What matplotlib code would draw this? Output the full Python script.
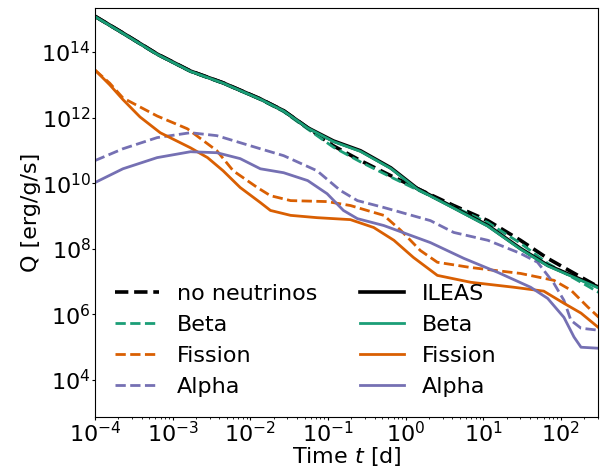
import numpy as np
import matplotlib.pyplot as plt

# log10(time [d]) and log10(Q [erg/g/s]) for each run

# total heating, ILEAS neutrinos (solid black / solid green beta)
lt_ileas = [-4.0, -3.64, -3.2, -2.77, -2.35, -1.87, -1.57, -1.26, -0.93, -0.58, -0.19, 0.15, 0.62, 1.06, 1.48, 1.83, 2.49]
lq_ileas = [15.09, 14.58, 13.94, 13.42, 13.06, 12.57, 12.21, 11.69, 11.29, 10.99, 10.47, 9.84, 9.26, 8.71, 8.01, 7.5, 6.83]
lq_ileas_beta = [15.08, 14.57, 13.93, 13.41, 13.05, 12.56, 12.2, 11.68, 11.27, 10.97, 10.45, 9.82, 9.24, 8.69, 7.99, 7.48, 6.8]

# total heating without neutrinos (dashed black / dashed green beta)
lt_nonu = [-4.0, -3.64, -3.2, -2.77, -2.35, -1.87, -1.57, -1.26, -0.93, -0.58, -0.19, 0.15, 0.62, 1.06, 1.48, 1.83, 2.49]
lq_nonu = [15.09, 14.58, 13.94, 13.42, 13.06, 12.57, 12.21, 11.69, 11.14, 10.69, 10.23, 9.84, 9.32, 8.86, 8.26, 7.71, 6.83]
lq_nonu_beta = [15.08, 14.56, 13.92, 13.4, 13.04, 12.55, 12.18, 11.65, 11.1, 10.65, 10.19, 9.8, 9.28, 8.8, 8.17, 7.56, 6.67]

# fission heating
lt_fis_nonu = [-4.0, -3.81, -3.64, -3.2, -2.81, -2.43, -2.22, -1.91, -1.74, -1.48, -1.01, -0.71, -0.28, -0.06, 0.19, 0.41, 0.84, 1.48, 1.91, 2.13, 2.35, 2.49]
lq_fis_nonu = [13.45, 13.05, 12.6, 12.05, 11.66, 10.99, 10.38, 9.87, 9.62, 9.47, 9.44, 9.32, 9.02, 8.56, 7.95, 7.59, 7.43, 7.25, 7.04, 6.74, 6.22, 5.91]
lt_fis_ileas = [-4.0, -3.81, -3.64, -3.42, -3.16, -2.77, -2.55, -2.35, -2.13, -1.87, -1.74, -1.48, -1.14, -0.71, -0.41, -0.15, 0.1, 0.41, 0.84, 1.39, 1.78, 2.04, 2.26, 2.48]
lq_fis_ileas = [13.45, 13.0, 12.55, 12.02, 11.54, 11.08, 10.78, 10.38, 9.87, 9.41, 9.17, 9.02, 8.95, 8.89, 8.65, 8.26, 7.74, 7.19, 6.98, 6.83, 6.71, 6.34, 6.04, 5.61]

# alpha heating
lt_alpha_nonu = [-4.0, -3.64, -3.2, -2.77, -2.43, -1.87, -1.57, -1.14, -0.84, -0.62, -0.28, 0.32, 0.62, 1.06, 1.48, 1.7, 1.91, 2.04, 2.13, 2.26, 2.48]
lq_alpha_nonu = [10.69, 11.05, 11.39, 11.54, 11.45, 11.05, 10.84, 10.38, 9.78, 9.47, 9.26, 8.86, 8.5, 8.26, 7.86, 7.59, 6.95, 6.43, 5.82, 5.58, 5.52]
lt_alpha_ileas = [-4.0, -3.64, -3.2, -2.77, -2.43, -2.13, -1.87, -1.57, -1.26, -1.01, -0.8, -0.62, -0.28, 0.32, 0.75, 1.19, 1.61, 1.83, 2.04, 2.17, 2.26, 2.48]
lq_alpha_ileas = [10.02, 10.44, 10.78, 10.96, 10.93, 10.75, 10.44, 10.32, 10.08, 9.68, 9.17, 8.92, 8.71, 8.19, 7.71, 7.28, 6.83, 6.49, 5.91, 5.31, 5.0, 4.97]

c_beta = "#1b9e77"
c_fis = "#d95f02"
c_alpha = "#7570b3"

plt.rcParams["font.size"] = 16

fig = plt.figure(figsize=(6.03, 4.69), dpi=100)
ax = fig.add_axes([0.1575, 0.111, 0.834, 0.872])

def pw(a):
    return 10.0 ** np.asarray(a)

kw = dict(solid_joinstyle="round", dash_joinstyle="round")
ax.plot(pw(lt_nonu), pw(lq_nonu), "k--", lw=2.6, label="no neutrinos", **kw)
ax.plot(pw(lt_nonu), pw(lq_nonu_beta), "--", color=c_beta, lw=2, label="Beta", **kw)
ax.plot(pw(lt_fis_nonu), pw(lq_fis_nonu), "--", color=c_fis, lw=2, label="Fission", **kw)
ax.plot(pw(lt_alpha_nonu), pw(lq_alpha_nonu), "--", color=c_alpha, lw=2, label="Alpha", **kw)
ax.plot(pw(lt_ileas), pw(lq_ileas), "k-", lw=2.6, label="ILEAS", **kw)
ax.plot(pw(lt_ileas), pw(lq_ileas_beta), "-", color=c_beta, lw=2, label="Beta", **kw)
ax.plot(pw(lt_fis_ileas), pw(lq_fis_ileas), "-", color=c_fis, lw=2, label="Fission", **kw)
ax.plot(pw(lt_alpha_ileas), pw(lq_alpha_ileas), "-", color=c_alpha, lw=2, label="Alpha", **kw)

ax.set_xscale("log")
ax.set_yscale("log")
ax.set_xlim(1e-4, 300)
ax.set_ylim(750, 2.2e15)
ax.tick_params(which="major", length=2.5, pad=0.5)
ax.tick_params(which="minor", length=1.5)
ax.set_xlabel("Time $t$ [d]", labelpad=-1)
ax.set_ylabel("Q [erg/g/s]", labelpad=0)
ax.legend(ncol=2, frameon=False, loc="lower left", bbox_to_anchor=(0.0, 0.0),
          handlelength=2.0, handletextpad=0.8, columnspacing=1.9)

plt.savefig("out.png")
